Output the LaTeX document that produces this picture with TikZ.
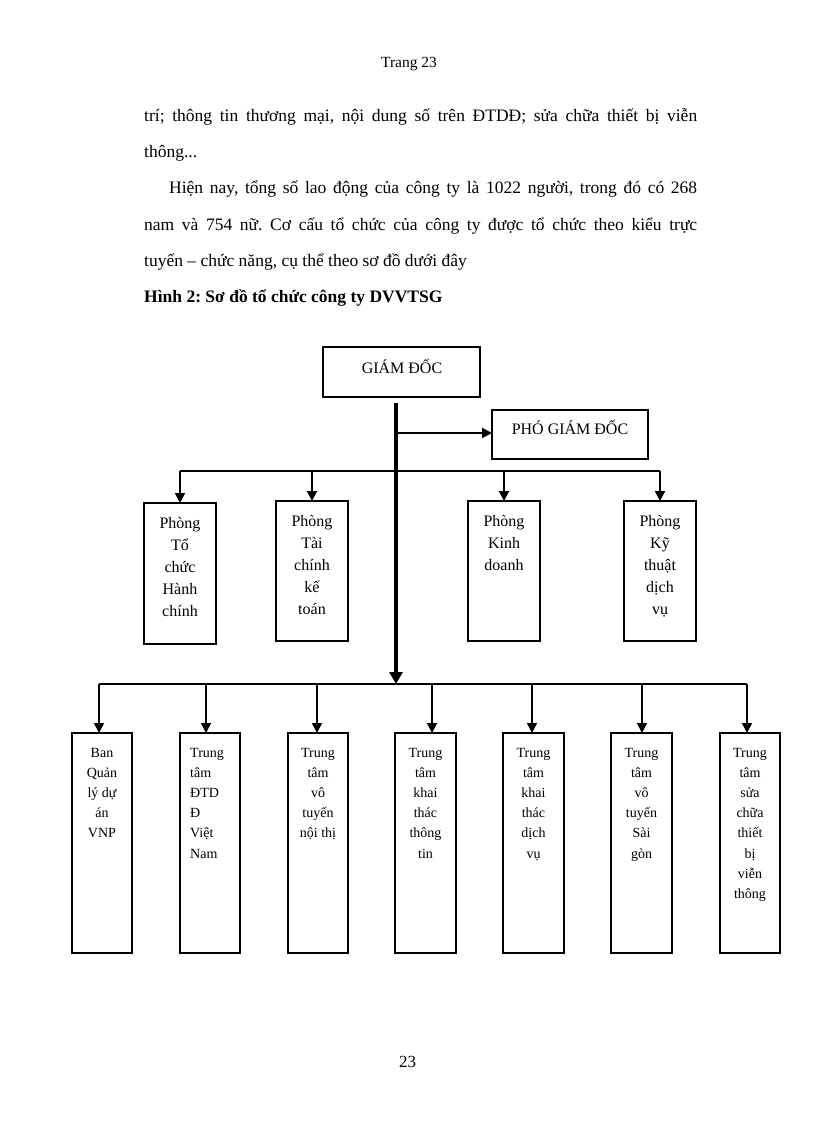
\documentclass[tikz,border=0pt]{standalone}
\usepackage{fontspec}
\setmainfont{Liberation Serif}
\usetikzlibrary{arrows.meta}
\newcommand\bdfont{\fontsize{17.5}{21}\selectfont}
\newcommand\hdfont{\fontsize{15.5}{19}\selectfont}
\newcommand\midfont{\fontsize{16}{22}\selectfont}
\newcommand\lowfont{\fontsize{14}{20.2}\selectfont}
\newcommand\ctab[1]{\begin{tabular}[t]{@{}c@{}}#1\end{tabular}}
\newcommand\ltab[1]{\begin{tabular}[t]{@{}l@{}}#1\end{tabular}}
\frenchspacing
\begin{document}
\begin{tikzpicture}[x=1pt,y=-1pt,
  box/.style={draw, line width=2pt, inner sep=0pt, outer sep=0pt, anchor=north west},
  midbox/.style={box, minimum width=72pt, minimum height=140pt},
  lowbox/.style={box, minimum width=60pt, minimum height=220pt},
  lbl/.style={inner sep=0pt, anchor=base},
  txt/.style={inner sep=0pt, anchor=base west, font=\bdfont},
  bus/.style={line width=2pt},
  lowbus/.style={line width=1.6pt},
  arr/.style={line width=2pt, -{Triangle[length=10pt,width=10pt]}},
  lowarr/.style={line width=1.6pt, -{Triangle[length=10pt,width=10pt]}},
  trunk/.style={line width=4pt, -{Triangle[length=12pt,width=13pt]}}]
\fill[white] (0,0) rectangle (816,1123);
\useasboundingbox (0,0) rectangle (816,1123);

% page text
\node[lbl, font=\hdfont] (hdr) at (409,68) {Trang 23};
\node[txt] (l1) at (144,122) {\makebox[553pt][s]{trí; thông tin thương mại, nội dung số trên ĐTDĐ; sửa chữa thiết bị viễn}};
\node[txt] (l2) at (144,158) {thông...};
\node[txt] (l3) at (169,194) {\makebox[528pt][s]{Hiện nay, tổng số lao động của công ty là 1022 người, trong đó có 268}};
\node[txt] (l4) at (144,230) {\makebox[553pt][s]{nam và 754 nữ. Cơ cấu tổ chức của công ty được tổ chức theo kiểu trực}};
\node[txt] (l5) at (144,266) {tuyến – chức năng, cụ thể theo sơ đồ dưới đây};
\node[txt] (l6) at (144,302) {\textbf{Hình 2: Sơ đồ tổ chức công ty DVVTSG}};
\node[lbl, font=\fontsize{17}{20}\selectfont] (pno) at (407.5,1067) {23};

% top boxes
\node[box, minimum width=157pt, minimum height=50pt] (gd) at (323,347) {};
\node[lbl, font=\midfont] (gdt) at (402,373) {GIÁM ĐỐC};
\node[box, minimum width=156pt, minimum height=49pt] (pgd) at (492,410) {};
\node[lbl, font=\midfont] (pgdt) at (570,434) {PHÓ GIÁM ĐỐC};

% middle boxes
\node[midbox, minimum height=141pt] (p1) at (144,503) {};
\node[midbox] (p2) at (276,501) {};
\node[midbox] (p3) at (468,501) {};
\node[midbox] (p4) at (624,501) {};
\node[lbl, font=\midfont] (p1t) at (180,528) {\ctab{Phòng\\Tổ\\chức\\Hành\\chính}};
\node[lbl, font=\midfont] (p2t) at (312,526) {\ctab{Phòng\\Tài\\chính\\kế\\toán}};
\node[lbl, font=\midfont] (p3t) at (504,526) {\ctab{Phòng\\Kinh\\doanh}};
\node[lbl, font=\midfont] (p4t) at (660,526) {\ctab{Phòng\\Kỹ\\thuật\\dịch\\vụ}};

% lower boxes
\node[lowbox] (t1) at (72,733) {};
\node[lowbox] (t2) at (180,733) {};
\node[lowbox] (t3) at (288,733) {};
\node[lowbox, minimum width=61pt] (t4) at (395,733) {};
\node[lowbox, minimum width=61pt] (t5) at (503,733) {};
\node[lowbox, minimum width=61pt] (t6) at (611,733) {};
\node[lowbox] (t7) at (720,733) {};
\node[lbl, font=\lowfont] (t1t) at (102,757) {\ctab{Ban\\Quản\\lý dự\\án\\VNP}};
\node[lbl, anchor=base west, font=\lowfont] (t2t) at (190,757) {\ltab{Trung\\tâm\\ĐTD\\Đ\\Việt\\Nam}};
\node[lbl, font=\lowfont] (t3t) at (318,757) {\ctab{Trung\\tâm\\vô\\tuyến\\nội thị}};
\node[lbl, font=\lowfont] (t4t) at (425.5,757) {\ctab{Trung\\tâm\\khai\\thác\\thông\\tin}};
\node[lbl, font=\lowfont] (t5t) at (533.5,757) {\ctab{Trung\\tâm\\khai\\thác\\dịch\\vụ}};
\node[lbl, font=\lowfont] (t6t) at (641.5,757) {\ctab{Trung\\tâm\\vô\\tuyến\\Sài\\gòn}};
\node[lbl, font=\lowfont] (t7t) at (750,757) {\ctab{Trung\\tâm\\sửa\\chữa\\thiết\\bị\\viễn\\thông}};

% junction coordinates
\coordinate (trTop) at (396,403);
\coordinate (trBot) at (396,684);
\coordinate (brP) at (396,433);
\coordinate (bus1L) at (180,471);
\coordinate (bus1R) at (660,471);
\coordinate (bus2L) at (99,684);
\coordinate (bus2R) at (747,684);
\coordinate (d1) at (99,684);
\coordinate (d2) at (206,684);
\coordinate (d3) at (317,684);
\coordinate (d4) at (432,684);
\coordinate (d5) at (532,684);
\coordinate (d6) at (642,684);
\coordinate (d7) at (747,684);

% level-2 bus and drops
\draw[bus] (bus1L) -- (bus1R);
\draw[arr] (p1.north |- bus1L) -- (p1.north);
\draw[arr] (p2.north |- bus1L) -- (p2.north);
\draw[arr] (p3.north |- bus1L) -- (p3.north);
\draw[arr] (p4.north |- bus1L) -- (p4.north);
% vice director
\draw[arr] (brP) -- (brP -| pgd.west);
% lower bus and drops
\draw[lowbus] (bus2L) -- (bus2R);
\draw[lowarr] (d1) -- (d1 |- t1.north);
\draw[lowarr] (d2) -- (d2 |- t2.north);
\draw[lowarr] (d3) -- (d3 |- t3.north);
\draw[lowarr] (d4) -- (d4 |- t4.north);
\draw[lowarr] (d5) -- (d5 |- t5.north);
\draw[lowarr] (d6) -- (d6 |- t6.north);
\draw[lowarr] (d7) -- (d7 |- t7.north);
% trunk
\draw[trunk] (trTop) -- (trBot);
\end{tikzpicture}
\end{document}
